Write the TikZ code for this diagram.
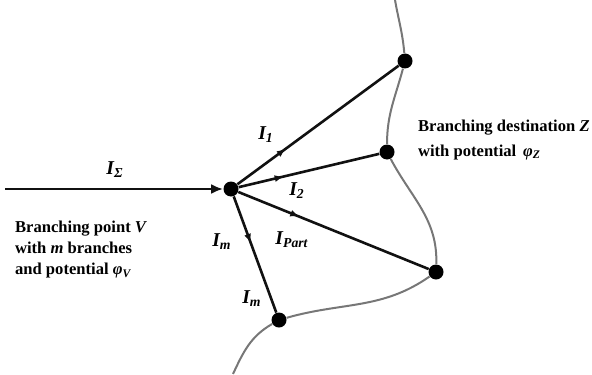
\documentclass[tikz,border=0pt]{standalone}
\usepackage{fontspec}
\setmainfont{Liberation Serif}
\usepackage{xcolor}
\usetikzlibrary{arrows.meta,decorations.markings}
\definecolor{BRLine}{HTML}{111111}
\definecolor{BRCurve}{HTML}{777777}
\tikzset{
  brdot/.style={circle,fill=black,inner sep=0pt,minimum size=7.5pt},
  branch/.style={line width=1.3pt,draw=BRLine,postaction={decorate},decoration={markings,mark=at position #1 with {\arrow{Latex[length=4.5pt,width=3.5pt]}}}},
  branch/.default=0.33,
  curlbl/.style={font=\fontsize{9.8}{11}\selectfont\bfseries\itshape},
  txtlbl/.style={font=\fontsize{8.3}{10.5}\selectfont\bfseries,align=left,anchor=west}
}

\begin{document}
\begin{tikzpicture}[x=0.5pt,y=-0.5pt]
\useasboundingbox (0,0) rectangle (592,374);
\node[brdot] (v) at (231,189) {};
\node[brdot] (z1) at (405,61) {};
\node[brdot] (z2) at (387,152) {};
\node[brdot] (z3) at (436,272) {};
\node[brdot] (zm) at (279,320) {};
\coordinate (src) at (5,189);
\coordinate (top) at (395,0);
\coordinate (bot) at (233,374);
\draw[BRCurve,line width=1pt] (top) to[out=-80,in=95] (z1) to[out=-105,in=90] (z2) to[out=-62,in=88] (z3) to[out=-145,in=16] (zm) to[out=-150,in=65] (bot);
\draw[-{Latex[length=6pt,width=5pt]},line width=1.3pt,BRLine] (src) -- (v);
\draw[branch=0.3] (v) -- (z1);
\draw[branch=0.32] (v) -- (z2);
\draw[branch=0.32] (v) -- (z3);
\draw[branch=0.4] (v) -- (zm);
\node[curlbl] (isum) at (115,170) {I\textsubscript{Σ}};
\node[curlbl] (i1) at (266,135) {I\textsubscript{1}};
\node[curlbl] (i2) at (297,191) {I\textsubscript{2}};
\node[curlbl] (ipart) at (292,240) {I\textsubscript{Part}};
\node[curlbl] (im) at (222,242) {I\textsubscript{m}};
\node[curlbl] (im2) at (252,299) {I\textsubscript{m}};
\node[txtlbl] (vtxt) at (8,250) {Branching point \textit{V}\\with \textit{m} branches\\and potential \textit{φ\textsubscript{V}}};
\node[txtlbl,font=\fontsize{8.3}{12.5}\selectfont\bfseries] (ztxt) at (411,140) {Branching destination \textit{Z}\\with potential \,\textit{φ\textsubscript{Z}}};
\end{tikzpicture}
\end{document}
